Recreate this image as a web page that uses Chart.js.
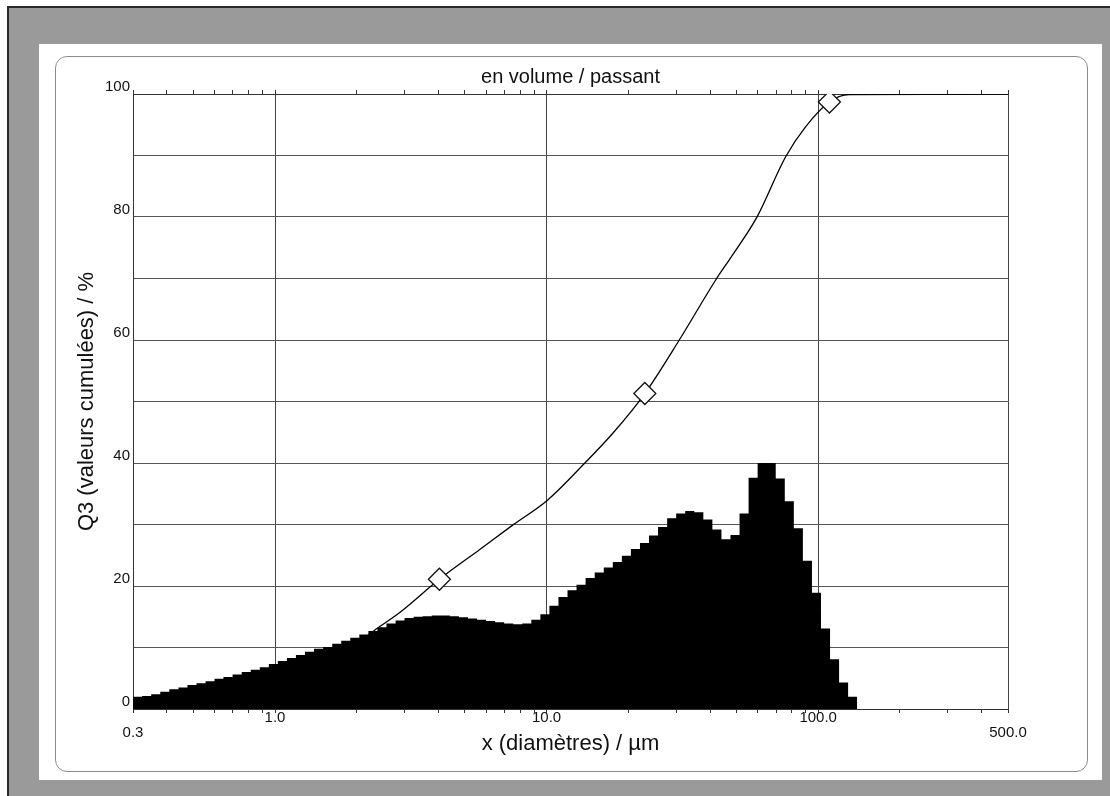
<!DOCTYPE html>
<html lang="fr">
<head>
<meta charset="utf-8">
<title>en volume / passant</title>
<script src="https://cdn.jsdelivr.net/npm/chart.js@4.4.1/dist/chart.umd.min.js"></script>
<style>
  html, body { margin: 0; padding: 0; background: #fff; }
  body { width: 1110px; height: 796px; position: relative; overflow: hidden; }
  .frame { position: absolute; left: 7px; top: 6px; right: 0; bottom: 0; background: #9a9a9a; border-left: 2px solid #2a2a2a; border-top: 2px solid #2a2a2a; }
  .panel { position: absolute; left: 39px; top: 44px; width: 1063px; height: 736px; background: #fff; }
  .inner { position: absolute; left: 55px; top: 56px; width: 1031px; height: 714px; border: 1px solid #8c8c8c; border-radius: 12px; }
  #chartBox { position: absolute; left: 0; top: 0; width: 1110px; height: 796px; }
</style>
</head>
<body>
<div class="frame"></div>
<div class="panel"></div>
<div class="inner"></div>
<div id="chartBox"><canvas id="psdChart" width="1110" height="796"></canvas></div>

<script>
// histogram bin edges (µm) and bar heights
const binEdges = [
  0.300, 0.324, 0.350, 0.378, 0.408, 0.441, 0.476, 0.514, 0.555, 0.599,
  0.646, 0.698, 0.754, 0.814, 0.879, 0.949, 1.024, 1.106, 1.194, 1.289,
  1.392, 1.504, 1.624, 1.753, 1.893, 2.044, 2.207, 2.383, 2.573, 2.779,
  3.000, 3.239, 3.498, 3.777, 4.078, 4.404, 4.754, 5.134, 5.543, 5.985,
  6.463, 6.978, 7.535, 8.136, 8.785, 9.487, 10.24, 11.06, 11.94, 12.89,
  13.92, 15.04, 16.24, 17.53, 18.93, 20.44, 22.07, 23.83, 25.73, 27.79,
  30.00, 32.39, 34.98, 37.77, 40.78, 44.04, 47.54, 51.34, 55.43, 59.85,
  64.63, 69.78, 75.35, 81.36, 87.85, 94.87, 102.4, 110.6, 119.4, 128.9,
  139.2
];
const binHeights = [
  2.0, 2.1, 2.4, 2.8, 3.2, 3.5, 3.9, 4.2, 4.5, 4.9,
  5.2, 5.6, 6.0, 6.4, 6.8, 7.3, 7.8, 8.3, 8.8, 9.3,
  9.8, 10.1, 10.6, 11.1, 11.6, 12.1, 12.7, 13.3, 13.9, 14.4,
  14.8, 15.0, 15.1, 15.2, 15.2, 15.1, 14.9, 14.7, 14.5, 14.3,
  14.1, 13.9, 13.8, 13.9, 14.5, 15.4, 16.8, 18.2, 19.3, 20.2,
  21.3, 22.2, 23.0, 23.9, 24.9, 26.0, 27.0, 28.2, 29.6, 31.0,
  31.8, 32.2, 32.0, 30.8, 29.2, 27.6, 28.3, 31.8, 37.6, 40.0,
  40.0, 37.5, 33.8, 29.4, 24.1, 18.9, 13.1, 8.1, 4.3, 2.0
];

// cumulative curve Q3 (%)
const cumX = [0.3, 0.45, 0.7, 1.0, 1.5, 2.0, 2.43, 2.88, 4.03, 5.66, 7.5, 10.1, 13.97, 17.5, 23.0, 30.8, 42.0, 47.0, 54.1, 59.7, 75.9, 90.0, 110, 130, 500];
const cumY = [0.5, 1.2, 2.7, 4.5, 7.5, 10.7, 13.4, 15.7, 21.1, 25.9, 29.9, 34.0, 40.2, 44.8, 51.3, 60.0, 69.8, 73.0, 77.0, 80.1, 89.8, 94.7, 98.7, 99.9, 100];

// diamond markers on the curve
const markerX = [4.03, 23.0, 110];
const markerY = [21.1, 51.3, 98.7];

// x axis ticks
const xMajorTicks = [0.3, 1, 10, 100, 500];
const xMajorLabels = ["0.3", "1.0", "10.0", "100.0", "500.0"];
const xMinorTicks = [0.4, 0.5, 0.6, 0.7, 0.8, 0.9, 2, 3, 4, 5, 6, 7, 8, 9, 20, 30, 40, 50, 60, 70, 80, 90, 200, 300, 400];
const yLabelledTicks = [0, 20, 40, 60, 80, 100];

function histogramPoints() {
  const pts = [{ x: binEdges[0], y: 0 }];
  for (let i = 0; i < binHeights.length; i++) {
    pts.push({ x: binEdges[i], y: binHeights[i] });
    pts.push({ x: binEdges[i + 1], y: binHeights[i] });
  }
  pts.push({ x: binEdges[binEdges.length - 1], y: 0 });
  return pts;
}

const allXTicks = xMajorTicks.concat(xMinorTicks).sort((a, b) => a - b);

function setXTicks(scale) {
  scale.ticks = allXTicks.map(v => ({ value: v }));
}

function xLabel(value) {
  const i = xMajorTicks.indexOf(value);
  if (i < 0) return "";
  // end labels sit one line lower in the original
  if (i === 0 || i === xMajorTicks.length - 1) return ["", xMajorLabels[i]];
  return xMajorLabels[i];
}

Chart.defaults.font.family = "'Liberation Sans', Arial, sans-serif";
Chart.defaults.color = "#111";

const ctx = document.getElementById("psdChart").getContext("2d");
new Chart(ctx, {
  type: "line",
  data: {
    datasets: [
      {
        label: "marqueurs",
        data: markerX.map((x, i) => ({ x: x, y: markerY[i] })),
        showLine: false,
        pointStyle: "rectRot",
        pointRadius: 11,
        pointBackgroundColor: "#fff",
        pointBorderColor: "#111",
        pointBorderWidth: 1.3
      },
      {
        label: "Q3",
        data: cumX.map((x, i) => ({ x: x, y: cumY[i] })),
        borderColor: "#000",
        borderWidth: 1.3,
        pointRadius: 0,
        cubicInterpolationMode: "monotone",
        fill: false
      },
      {
        label: "q3",
        data: histogramPoints(),
        borderWidth: 0,
        borderColor: "#000",
        backgroundColor: "#000",
        pointRadius: 0,
        tension: 0,
        fill: "origin"
      }
    ]
  },
  options: {
    responsive: false,
    animation: false,
    devicePixelRatio: 1,
    layout: { padding: { left: 0, right: 102, top: 0, bottom: 0 } },
    plugins: {
      legend: { display: false },
      tooltip: { enabled: false },
      title: {
        display: true,
        fullSize: false,
        text: "en volume / passant",
        font: { size: 20, weight: "normal" },
        color: "#111",
        padding: { top: 65, bottom: 0 }
      }
    },
    scales: {
      x: {
        type: "logarithmic",
        position: "bottom",
        min: 0.3,
        max: 500,
        afterBuildTicks: setXTicks,
        afterFit: scale => { scale.height = 87; },
        border: { display: true, color: "#333", width: 1 },
        grid: {
          color: c => (c.tick && xMajorTicks.includes(c.tick.value)) ? "#444" : "rgba(0,0,0,0)",
          tickColor: "#333",
          tickLength: 4,
          lineWidth: 1
        },
        ticks: {
          autoSkip: false,
          maxRotation: 0,
          padding: -2,
          font: { size: 15, lineHeight: 0.95 },
          callback: value => xLabel(value)
        },
        title: {
          display: true,
          text: "x (diamètres) / µm",
          font: { size: 22 },
          padding: { top: 0, bottom: 39 }
        }
      },
      x2: {
        type: "logarithmic",
        position: "top",
        min: 0.3,
        max: 500,
        afterBuildTicks: setXTicks,
        afterFit: scale => { scale.height = 5; },
        border: { display: true, color: "#333", width: 1 },
        grid: { drawOnChartArea: false, tickColor: "#333", tickLength: 4 },
        ticks: { display: false, autoSkip: false }
      },
      y: {
        type: "linear",
        min: 0,
        max: 100,
        afterFit: scale => { scale.width = 133; },
        border: { display: true, color: "#333", width: 1 },
        grid: { color: "#555", lineWidth: 1, drawTicks: false },
        ticks: {
          stepSize: 10,
          padding: 3,
          font: { size: 15, lineHeight: 0.95 },
          callback: value => yLabelledTicks.includes(value) ? [String(value), ""] : ""
        },
        title: {
          display: true,
          text: "Q3 (valeurs cumulées) / %",
          font: { size: 22 },
          padding: { top: 74, bottom: 0 }
        }
      }
    }
  }
});
</script>
</body>
</html>
